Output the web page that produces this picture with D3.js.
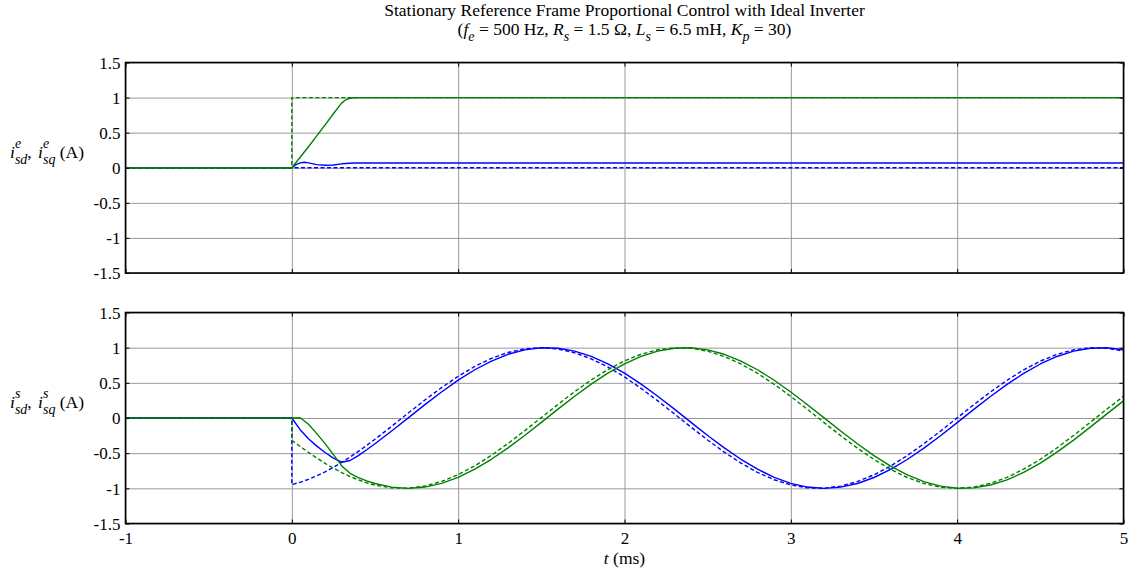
<!DOCTYPE html>
<html>
<head>
<meta charset="utf-8">
<script src="https://cdn.jsdelivr.net/npm/d3@7"></script>
<style>
  body { margin: 0; background: #fff; }
  svg { display: block; }
  text { font-family: "Liberation Serif", "Times New Roman", serif; fill: #000; white-space: pre; }
</style>
</head>
<body>
<svg id="chart" width="1136" height="569"></svg>
<script>
// ---- axis ticks ----
const xTicks = [-1, 0, 1, 2, 3, 4, 5];
const xTickLabels = ["-1", "0", "1", "2", "3", "4", "5"];
const yTicks = [-1.5, -1, -0.5, 0, 0.5, 1, 1.5];
const yTickLabels = ["-1.5", "-1", "-0.5", "0", "0.5", "1", "1.5"];

// ---- synchronous (rotating) frame currents, A, vs time in ms ----
const tSync      = [-1, 0, 0, 0.025, 0.05, 0.075, 0.1, 0.15, 0.2, 0.25, 0.3, 0.325, 0.35, 0.375, 0.4, 5];
const idRefSync  = [0, 0, 0, 0, 0, 0, 0, 0, 0, 0, 0, 0, 0, 0, 0, 0];
const iqRefSync  = [0, 0, 1, 1, 1, 1, 1, 1, 1, 1, 1, 1, 1, 1, 1, 1];
const idSync     = [0, 0, 0, 0.045, 0.07, 0.078, 0.07, 0.045, 0.035, 0.04, 0.056, 0.061, 0.065, 0.067, 0.068, 0.068];
const iqSync     = [0, 0, 0, 0.075, 0.15, 0.225, 0.30, 0.455, 0.61, 0.77, 0.925, 0.97, 0.99, 0.997, 1.0, 1.0];

// ---- stationary frame currents, A, vs time in ms ----
const tStat = [-1, 0, 0, 0.05, 0.1, 0.15, 0.2, 0.25, 0.3, 0.35, 0.4, 0.45,
  0.5, 0.6, 0.7, 0.8, 0.9, 1.0, 1.1, 1.2, 1.3, 1.4,
  1.5, 1.6, 1.7, 1.8, 1.9, 2.0, 2.1, 2.2, 2.3, 2.4,
  2.5, 2.6, 2.7, 2.8, 2.9, 3.0, 3.1, 3.2, 3.3, 3.4,
  3.5, 3.6, 3.7, 3.8, 3.9, 4.0, 4.1, 4.2, 4.3, 4.4,
  4.5, 4.6, 4.7, 4.8, 4.9, 5.0];
const idRefStat = [0, 0, -0.948, -0.914, -0.872, -0.822, -0.765, -0.701, -0.631, -0.555, -0.475, -0.390,
  -0.302, -0.118, 0.070, 0.256, 0.432, 0.593, 0.733, 0.848, 0.932, 0.983,
  1.000, 0.981, 0.928, 0.841, 0.725, 0.584, 0.421, 0.244, 0.058, -0.130,
  -0.313, -0.486, -0.641, -0.773, -0.878, -0.952, -0.993, -0.998, -0.968, -0.904,
  -0.808, -0.683, -0.534, -0.366, -0.186, 0.002, 0.189, 0.369, 0.537, 0.685,
  0.809, 0.905, 0.969, 0.998, 0.992, 0.951];
const iqRefStat = [0, 0, -0.317, -0.405, -0.489, -0.569, -0.644, -0.713, -0.776, -0.832, -0.880, -0.921,
  -0.954, -0.993, -0.998, -0.967, -0.902, -0.805, -0.680, -0.530, -0.362, -0.181,
  0.006, 0.193, 0.374, 0.541, 0.689, 0.812, 0.907, 0.970, 0.998, 0.992,
  0.950, 0.874, 0.768, 0.635, 0.479, 0.306, 0.122, -0.066, -0.252, -0.428,
  -0.590, -0.731, -0.846, -0.931, -0.983, -1.000, -0.982, -0.929, -0.844, -0.728,
  -0.587, -0.425, -0.248, -0.062, 0.126, 0.309];
const idStat = [0, 0, 0, -0.166, -0.295, -0.400, -0.491, -0.570, -0.629, -0.604, -0.534, -0.452,
  -0.366, -0.185, 0.002, 0.190, 0.370, 0.538, 0.686, 0.810, 0.906, 0.969,
  0.998, 0.992, 0.951, 0.876, 0.771, 0.638, 0.482, 0.309, 0.126, -0.062,
  -0.248, -0.425, -0.587, -0.728, -0.844, -0.929, -0.982, -1.000, -0.983, -0.931,
  -0.846, -0.731, -0.590, -0.429, -0.252, -0.066, 0.122, 0.306, 0.478, 0.634,
  0.768, 0.875, 0.950, 0.992, 0.999, 0.970];
const iqStat = [0, 0, 0, 0.003, -0.088, -0.222, -0.364, -0.520, -0.681, -0.787, -0.848, -0.894,
  -0.931, -0.983, -1.000, -0.982, -0.929, -0.844, -0.728, -0.587, -0.425, -0.248,
  -0.062, 0.126, 0.310, 0.482, 0.638, 0.771, 0.877, 0.951, 0.992, 0.998,
  0.969, 0.906, 0.810, 0.686, 0.537, 0.370, 0.189, 0.002, -0.185, -0.366,
  -0.534, -0.683, -0.808, -0.904, -0.968, -0.998, -0.993, -0.953, -0.879, -0.773,
  -0.641, -0.486, -0.314, -0.130, 0.058, 0.244];

const BLUE = "#0000ff", GREEN = "#008000";
const FONT = '"Liberation Serif", "Times New Roman", serif';

const svg = d3.select("#chart").style("font-family", FONT);
const left = 125.5, right = 1123.5;
const x = d3.scaleLinear().domain([-1, 5]).range([left, right]);

const panels = [
  { top: 62.5, bottom: 273, t: tSync, showX: false, sup: "e",
    series: [
      { v: idRefSync, color: BLUE, dash: true },
      { v: iqRefSync, color: GREEN, dash: true },
      { v: idSync, color: BLUE, dash: false },
      { v: iqSync, color: GREEN, dash: false } ] },
  { top: 312.5, bottom: 523.5, t: tStat, showX: true, sup: "s",
    series: [
      { v: idRefStat, color: BLUE, dash: true },
      { v: iqRefStat, color: GREEN, dash: true },
      { v: idStat, color: BLUE, dash: false },
      { v: iqStat, color: GREEN, dash: false } ] }
];

function styleAxis(g, fontSize) {
  g.attr("font-family", FONT).attr("font-size", fontSize);
  g.select(".domain").remove();
  g.selectAll(".tick line").attr("stroke", "#000").attr("stroke-width", 1);
  g.selectAll(".tick text").style("font-family", FONT)
    .style("font-size", fontSize + "px").attr("fill", "#000");
}

panels.forEach((p, pi) => {
  const y = d3.scaleLinear().domain([-1.5, 1.5]).range([p.bottom, p.top]);
  const w = right - left, h = p.bottom - p.top;
  const g = svg.append("g");

  // grid
  const gx = g.append("g").attr("transform", `translate(0,${p.bottom})`)
    .call(d3.axisBottom(x).tickValues(xTicks).tickSize(-h).tickFormat(""));
  gx.select(".domain").remove();
  gx.selectAll(".tick line").attr("stroke", "#999").attr("stroke-width", 1);
  const gy = g.append("g").attr("transform", `translate(${left},0)`)
    .call(d3.axisLeft(y).tickValues(yTicks).tickSize(-w).tickFormat(""));
  gy.select(".domain").remove();
  gy.selectAll(".tick line").attr("stroke", "#999").attr("stroke-width", 1);

  // data lines
  const clipId = "clip" + pi;
  svg.append("clipPath").attr("id", clipId).append("rect")
    .attr("x", left).attr("y", p.top).attr("width", w).attr("height", h);
  const line = d3.line().x(d => x(d[0])).y(d => y(d[1]));
  const lg = g.append("g").attr("clip-path", `url(#${clipId})`);
  p.series.forEach(s => {
    const pts = p.t.map((t, i) => [t, s.v[i]]);
    lg.append("path").attr("d", line(pts))
      .attr("fill", "none").attr("stroke", s.color)
      .attr("stroke-width", 1.4)
      .attr("stroke-dasharray", s.dash ? "4,2.5" : null)
      .attr("stroke-linejoin", "round");
  });

  // inward ticks on all four sides
  const axL = g.append("g").attr("transform", `translate(${left},0)`)
    .call(d3.axisLeft(y).tickValues(yTicks).tickSize(-4).tickPadding(5)
      .tickFormat((d, i) => yTickLabels[i]));
  styleAxis(axL, 17);
  axL.selectAll(".tick text").attr("dy", "0.34em");
  const axR = g.append("g").attr("transform", `translate(${right},0)`)
    .call(d3.axisRight(y).tickValues(yTicks).tickSize(-4).tickFormat(""));
  styleAxis(axR, 17);
  const axB = g.append("g").attr("transform", `translate(0,${p.bottom})`)
    .call(d3.axisBottom(x).tickValues(xTicks).tickSize(-4).tickPadding(8)
      .tickFormat((d, i) => p.showX ? xTickLabels[i] : ""));
  styleAxis(axB, 17);
  const axT = g.append("g").attr("transform", `translate(0,${p.top})`)
    .call(d3.axisTop(x).tickValues(xTicks).tickSize(-4).tickFormat(""));
  styleAxis(axT, 17);

  // frame
  g.append("rect").attr("x", left).attr("y", p.top).attr("width", w).attr("height", h)
    .attr("fill", "none").attr("stroke", "#000").attr("stroke-width", 1.6);

  // y label: i^x_sd, i^x_sq (A)
  const baseY = p.top + 95.8;
  const lab = g.append("g");
  let cx = 10;
  function piece(txt, opts) {
    const t = lab.append("text").attr("x", cx).attr("y", baseY + (opts.dy || 0))
      .style("font-size", (opts.size || 17.5) + "px")
      .style("font-style", opts.italic ? "italic" : "normal")
      .style("white-space", "pre").text(txt);
    return t.node().getComputedTextLength();
  }
  function scriptPair(sup, sub) {
    const a = piece(sup, { italic: true, size: 14, dy: -10.5 });
    const b = piece(sub, { italic: true, size: 14, dy: 6 });
    cx += Math.max(a, b);
  }
  cx += piece("i", { italic: true });
  scriptPair(p.sup, "sd");
  cx += piece(", ", {}) + 2;
  cx += piece("i", { italic: true });
  scriptPair(p.sup, "sq");
  cx += piece(" (A)", {}) ;
});

// x axis title
const xt = svg.append("text").attr("x", x(2)).attr("y", 564)
  .attr("text-anchor", "middle").style("font-size", "17.5px");
xt.append("tspan").style("font-style", "italic").text("t");
xt.append("tspan").text(" (ms)");

// chart title
const cxT = (left + right) / 2;
svg.append("text").attr("x", cxT).attr("y", 16).attr("text-anchor", "middle")
  .style("font-size", "17.5px")
  .text("Stationary Reference Frame Proportional Control with Ideal Inverter");
const t2 = svg.append("text").attr("x", cxT).attr("y", 34.6).attr("text-anchor", "middle")
  .style("font-size", "17.5px");
const parts = [
  ["(", false, false], ["f", true, false], ["e", true, true], [" = 500 Hz, ", false, false],
  ["R", true, false], ["s", true, true], [" = 1.5 \u03A9, ", false, false],
  ["L", true, false], ["s", true, true], [" = 6.5 mH, ", false, false],
  ["K", true, false], ["p", true, true], [" = 30)", false, false]
];
let lastSub = false;
parts.forEach(([txt, it, sub]) => {
  const ts = t2.append("tspan").text(txt).style("font-style", it ? "italic" : "normal");
  if (sub) ts.style("font-size", "14px");
  if (sub !== lastSub) ts.attr("dy", sub ? 6 : -6);
  lastSub = sub;
});
</script>
</body>
</html>
